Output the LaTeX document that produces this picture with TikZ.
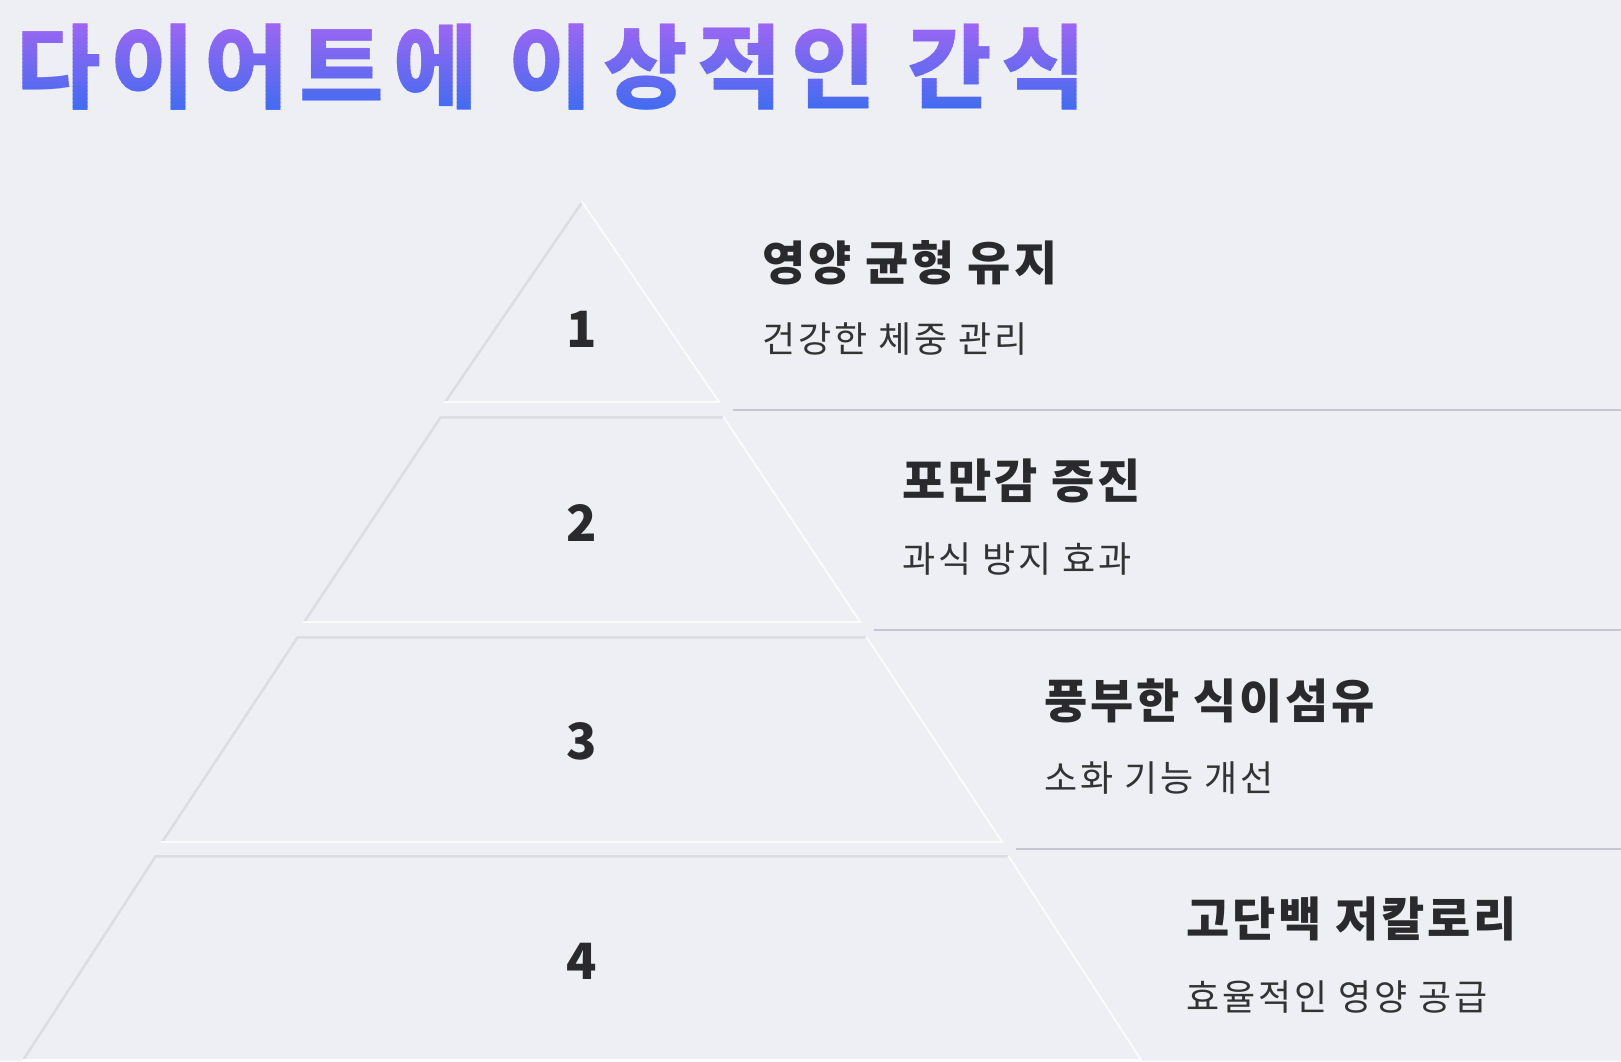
\documentclass[tikz,border=0pt]{standalone}
\usepackage{fontspec}
\setmainfont{Noto Sans CJK KR}
\definecolor{bgc}{HTML}{EEEFF4}
\definecolor{shadowc}{HTML}{DCDDE4}
\definecolor{lightc}{HTML}{FBFBFD}
\definecolor{sepc}{HTML}{C6C6D3}
\definecolor{txtc}{HTML}{2A2A2E}
\definecolor{subc}{HTML}{333336}
\definecolor{titleA}{HTML}{A066F2}
\definecolor{titleB}{HTML}{3F6CF0}
\tikzset{
  titlestyle/.style={anchor=west, inner sep=0pt, font=\fontsize{92}{100}\selectfont\bfseries\addfontfeatures{LetterSpace=10.5}},
  numstyle/.style={inner sep=0pt, text=txtc, font=\fontsize{50}{56}\selectfont\bfseries},
  headstyle/.style={anchor=west, inner sep=0pt, text=txtc, font=\fontsize{47}{52}\selectfont\bfseries\addfontfeatures{LetterSpace=6}},
  substyle/.style={anchor=west, inner sep=0pt, text=subc, font=\fontsize{36}{42}\selectfont\addfontfeatures{LetterSpace=8}},
  sepline/.style={draw=sepc, line width=2.2pt},
  tierfill/.style={fill=bgc},
  darkedge/.style={draw=shadowc, line width=5pt},
  lightedge/.style={draw=lightc, line width=4pt},
}
\begin{document}
\begin{tikzpicture}[x=1pt, y=-1pt]
\useasboundingbox (0,0) rectangle (1621,1061);
\fill[bgc] (0,0) rectangle (1621,1061);

% title with vertical gradient (strips)
\foreach \i in {0,...,23} {
  \pgfmathsetmacro\t{\i/23*100}
  \begin{scope}
    \clip (0,{18+\i*4}) rectangle (1200,{18+(\i+1)*4+0.6});
    \node[titlestyle, text=titleB!\t!titleA] (title\i) at (16,67) {다이어트에 이상적인 간식};
  \end{scope}
}
\fill[bgc] (0,114) rectangle (1200,125);

% tiers: coordinates
\coordinate (t1a) at (582,200);
\coordinate (t1l) at (443,403); \coordinate (t1r) at (721,403);
\coordinate (t2tl) at (440,416); \coordinate (t2tr) at (724,416);
\coordinate (t2bl) at (302,623); \coordinate (t2br) at (862,623);
\coordinate (t3tl) at (297,636); \coordinate (t3tr) at (867,636);
\coordinate (t3bl) at (160,843); \coordinate (t3br) at (1004,843);
\coordinate (t4tl) at (155,855); \coordinate (t4tr) at (1009,855);
\coordinate (t4bl) at (21,1061); \coordinate (t4br) at (1143,1061);

% tier 1
\begin{scope}
  \clip (t1a) -- (t1r) -- (t1l) -- cycle;
  \fill[tierfill] (t1a) -- (t1r) -- (t1l) -- cycle;
  \draw[darkedge] (t1l) -- (t1a);
  \draw[lightedge] (t1a) -- (t1r) -- (t1l);
\end{scope}
% tier 2
\begin{scope}
  \clip (t2tl) -- (t2tr) -- (t2br) -- (t2bl) -- cycle;
  \fill[tierfill] (t2tl) -- (t2tr) -- (t2br) -- (t2bl) -- cycle;
  \draw[darkedge] (t2bl) -- (t2tl) -- (t2tr);
  \draw[lightedge] (t2tr) -- (t2br) -- (t2bl);
\end{scope}
% tier 3
\begin{scope}
  \clip (t3tl) -- (t3tr) -- (t3br) -- (t3bl) -- cycle;
  \fill[tierfill] (t3tl) -- (t3tr) -- (t3br) -- (t3bl) -- cycle;
  \draw[darkedge] (t3bl) -- (t3tl) -- (t3tr);
  \draw[lightedge] (t3tr) -- (t3br) -- (t3bl);
\end{scope}
% tier 4
\begin{scope}
  \clip (t4tl) -- (t4tr) -- (t4br) -- (t4bl) -- cycle;
  \fill[tierfill] (t4tl) -- (t4tr) -- (t4br) -- (t4bl) -- cycle;
  \draw[darkedge] (t4bl) -- (t4tl) -- (t4tr);
  \draw[lightedge] (t4tr) -- (t4br) -- (t4bl);
\end{scope}

% numbers
\node[numstyle] (n1) at (582,329) {1};
\node[numstyle] (n2) at (582,523) {2};
\node[numstyle] (n3) at (582,741) {3};
\node[numstyle] (n4) at (582,961) {4};

% separators
\coordinate (s1a) at (733,410); \coordinate (s1b) at (1621,410);
\coordinate (s2a) at (874,630); \coordinate (s2b) at (1621,630);
\coordinate (s3a) at (1016,849); \coordinate (s3b) at (1621,849);
\draw[sepline] (s1a) -- (s1b);
\draw[sepline] (s2a) -- (s2b);
\draw[sepline] (s3a) -- (s3b);

% texts
\node[headstyle] (h1) at (762,263) {영양 균형 유지};
\node[substyle] (d1) at (762,339) {건강한 체중 관리};
\node[headstyle] (h2) at (902,481) {포만감 증진};
\node[substyle] (d2) at (902,559) {과식 방지 효과};
\node[headstyle] (h3) at (1044,701) {풍부한 식이섬유};
\node[substyle] (d3) at (1044,778) {소화 기능 개선};
\node[headstyle] (h4) at (1186,919) {고단백 저칼로리};
\node[substyle] (d4) at (1186,997) {효율적인 영양 공급};
\end{tikzpicture}
\end{document}
